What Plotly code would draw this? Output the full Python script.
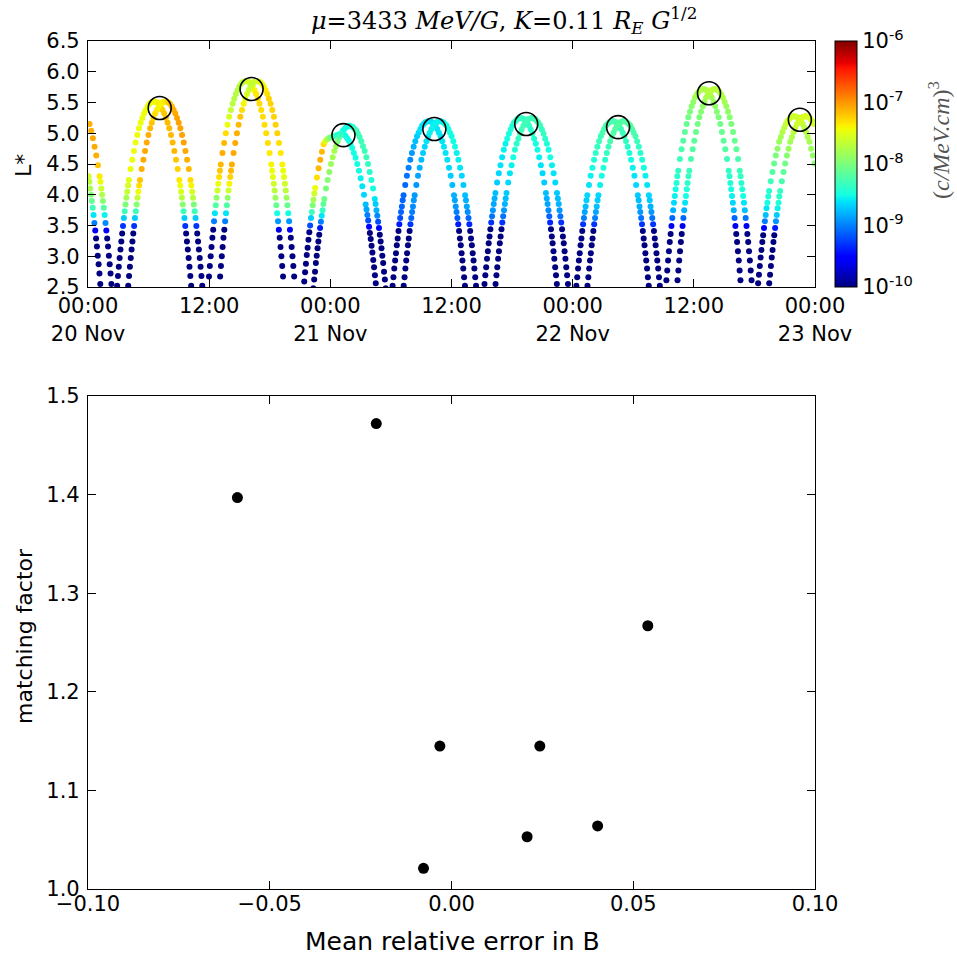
import plotly.graph_objects as go
import pandas as pd

# ---------------- data: top panel (L* of the two probes, coloured by PSD) ----------------
START = pd.Timestamp("2013-11-20 00:00")
LOW = -10.5  # below colour range (dark blue)

# sample offsets (minutes) around each apogee pass, shared by all passes
OFFSETS_MIN = [-220, -215, -210, -205, -200, -195, -190, -185, -180, -175, -170, -165, -160, -155, -150,
               -140, -130, -120, -110, -100, -90, -80, -70, -60, -50, -40, -30, -20, -10, 0,
               10, 20, 30, 40, 50, 60, 70, 80, 90, 100, 110, 120, 130, 140,
               150, 155, 160, 165, 170, 175, 180, 185, 190, 195, 200, 205, 210, 215, 220]

# apogee times (hours after 20 Nov 00:00)
A_APOGEE_H = [-2.45, 6.55, 15.65, 25.0, 33.75, 42.85, 51.95, 60.95, 69.95]
B_APOGEE_H = [-1.35, 7.65, 16.75, 25.9, 34.85, 43.95, 53.05, 62.05, 71.05]

# L* values per pass
L_H0A = [None] * 44 + [4.30, 4.21, 4.10, 4.00, 3.90, 3.79, 3.67, 3.54, 3.42, 3.29, 3.16, 3.01, 2.87, 2.72, 2.55]
L_H0B = [None] * 38 + [5.15, 5.04, 4.92, 4.78, 4.64, 4.48,
                       4.30, 4.21, 4.10, 4.00, 3.90, 3.79, 3.67, 3.54, 3.42, 3.29, 3.16, 3.01, 2.87, 2.72, 2.55]
L_H1 = [2.52, 2.68, 2.83, 2.97, 3.11, 3.24, 3.37, 3.49, 3.62, 3.73, 3.84, 3.95, 4.05, 4.15, 4.24,
        4.42, 4.57, 4.71, 4.85, 4.97, 5.08, 5.17, 5.25, 5.32, 5.38, 5.43, 5.47, 5.50, 5.51, 5.52,
        5.51, 5.50, 5.47, 5.43, 5.38, 5.32, 5.25, 5.17, 5.08, 4.97, 4.85, 4.71, 4.57, 4.42,
        4.24, 4.15, 4.05, 3.95, 3.84, 3.73, 3.62, 3.49, 3.37, 3.24, 3.11, 2.97, 2.83, 2.68, 2.52]
L_H2 = [2.67, 2.84, 3.00, 3.15, 3.30, 3.43, 3.57, 3.70, 3.83, 3.95, 4.07, 4.18, 4.29, 4.39, 4.49,
        4.68, 4.84, 5.00, 5.14, 5.27, 5.38, 5.48, 5.56, 5.64, 5.70, 5.76, 5.80, 5.83, 5.84, 5.85,
        5.84, 5.83, 5.80, 5.76, 5.70, 5.64, 5.56, 5.48, 5.38, 5.27, 5.14, 5.00, 4.84, 4.68,
        4.49, 4.39, 4.29, 4.18, 4.07, 3.95, 3.83, 3.70, 3.57, 3.43, 3.30, 3.15, 3.00, 2.84, 2.67]
L_H3A = [2.44, 2.59, 2.74, 2.88, 3.02, 3.14, 3.27, 3.39, 3.50, 3.62, 3.72, 3.83, 3.92, 4.02, 4.11,
         4.28, 4.43, 4.57, 4.70, 4.82, 4.87, 4.90, 4.92, 4.93, 4.94, 4.95, 4.96, 4.97, 4.98, 4.99,
         5.00, 4.98, 4.96, 4.92, 4.88, 4.82, 4.76, 4.68, 4.60, 4.50, 4.39, 4.27, 4.14, 4.00,
         3.84, 3.76, 3.67, 3.58, 3.48, 3.38, 3.28, 3.17, 3.06, 2.94, 2.82, 2.69, 2.56, 2.43, 2.28]
L_H3B = [2.33, 2.48, 2.62, 2.75, 2.89, 3.01, 3.13, 3.24, 3.35, 3.46, 3.56, 3.66, 3.75, 3.85, 3.93,
         4.10, 4.24, 4.37, 4.50, 4.61, 4.71, 4.79, 4.87, 4.94, 4.99, 5.04, 5.07, 5.10, 5.11, 5.12,
         5.11, 5.10, 5.07, 5.04, 4.99, 4.94, 4.87, 4.79, 4.71, 4.61, 4.50, 4.37, 4.24, 4.10,
         3.93, 3.85, 3.75, 3.66, 3.56, 3.46, 3.35, 3.24, 3.13, 3.01, 2.89, 2.75, 2.62, 2.48, 2.33]
L_H4 = [2.37, 2.52, 2.66, 2.80, 2.93, 3.05, 3.18, 3.29, 3.41, 3.52, 3.62, 3.72, 3.81, 3.91, 3.99,
        4.16, 4.31, 4.44, 4.57, 4.68, 4.78, 4.87, 4.95, 5.01, 5.07, 5.12, 5.15, 5.18, 5.19, 5.20,
        5.19, 5.18, 5.15, 5.12, 5.07, 5.01, 4.95, 4.87, 4.78, 4.68, 4.57, 4.44, 4.31, 4.16,
        3.99, 3.91, 3.81, 3.72, 3.62, 3.52, 3.41, 3.29, 3.18, 3.05, 2.93, 2.80, 2.66, 2.52, 2.37]
L_H5 = [2.39, 2.55, 2.69, 2.82, 2.96, 3.08, 3.21, 3.32, 3.44, 3.55, 3.65, 3.75, 3.85, 3.94, 4.03,
        4.20, 4.35, 4.48, 4.61, 4.73, 4.83, 4.91, 4.99, 5.06, 5.12, 5.17, 5.20, 5.23, 5.24, 5.25,
        5.24, 5.23, 5.20, 5.17, 5.12, 5.06, 4.99, 4.91, 4.83, 4.73, 4.61, 4.48, 4.35, 4.20,
        4.03, 3.94, 3.85, 3.75, 3.65, 3.55, 3.44, 3.32, 3.21, 3.08, 2.96, 2.82, 2.69, 2.55, 2.39]
L_H6 = [2.37, 2.52, 2.66, 2.80, 2.93, 3.05, 3.18, 3.29, 3.41, 3.52, 3.62, 3.72, 3.81, 3.91, 3.99,
        4.16, 4.31, 4.44, 4.57, 4.68, 4.78, 4.87, 4.95, 5.01, 5.07, 5.12, 5.15, 5.18, 5.19, 5.20,
        5.19, 5.18, 5.15, 5.12, 5.07, 5.01, 4.95, 4.87, 4.78, 4.68, 4.57, 4.44, 4.31, 4.16,
        3.99, 3.91, 3.81, 3.72, 3.62, 3.52, 3.41, 3.29, 3.18, 3.05, 2.93, 2.80, 2.66, 2.52, 2.37]
L_H7 = [2.61, 2.77, 2.93, 3.08, 3.23, 3.36, 3.49, 3.62, 3.75, 3.87, 3.98, 4.09, 4.19, 4.30, 4.39,
        4.58, 4.74, 4.88, 5.02, 5.15, 5.26, 5.35, 5.44, 5.51, 5.58, 5.63, 5.67, 5.70, 5.71, 5.72,
        5.71, 5.70, 5.67, 5.63, 5.58, 5.51, 5.44, 5.35, 5.26, 5.15, 5.02, 4.88, 4.74, 4.58,
        4.39, 4.30, 4.19, 4.09, 3.98, 3.87, 3.75, 3.62, 3.49, 3.36, 3.23, 3.08, 2.93, 2.77, 2.61]
L_H8A = [2.41, 2.56, 2.70, 2.84, 2.98, 3.10, 3.23, 3.34, 3.46, 3.57, 3.67, 3.78, 3.87, 3.97, 4.06,
         4.22, 4.37, 4.51, 4.64, 4.75, 4.86, 4.94, 5.02, 5.09, 5.15, 5.20, 5.23, 5.26, 5.27, 5.28,
         5.27, 5.26, 5.23, 5.20, 5.15, 5.09, 5.02, 4.94, 4.86, 4.75, 4.64, 4.51] + [None] * 17
L_H8B = [2.41, 2.56, 2.70, 2.84, 2.98, 3.10, 3.23, 3.34, 3.46, 3.57, 3.67, 3.78, 3.87, 3.97, 4.06,
         4.22, 4.37, 4.51, 4.64, 4.75, 4.86, 4.94, 5.02, 5.09, 5.15, 5.20, 5.23, 5.26, 5.27, 5.28,
         5.27, 5.26, 5.23, 5.20, 5.15] + [None] * 24

# log10 phase space density per point
P_H0A = [None] * 44 + [-7.6, -7.7, -7.8, -7.95, -8.1, -8.3, -8.6, -9.0, -9.6, LOW, LOW, LOW, LOW, LOW, LOW]
P_H0B = [None] * 38 + [-7.1, -7.1, -7.08, -7.08, -7.1, -7.2,
                       -7.35, -7.45, -7.6, -7.75, -7.95, -8.2, -8.55, -8.95, -9.5, LOW, LOW, LOW, LOW, LOW, LOW]
P_H1A = [LOW, LOW, LOW, LOW, LOW, LOW, LOW, -9.3, -8.7, -8.3, -8.0, -7.8, -7.65, -7.55, -7.5,
         -7.45, -7.45, -7.45, -7.45, -7.45, -7.45, -7.45, -7.45, -7.45, -7.45, -7.45, -7.45, -7.45, -7.45, -7.45,
         -7.4, -7.4, -7.35, -7.3, -7.25, -7.2, -7.2, -7.15, -7.15, -7.15, -7.15, -7.15, -7.2, -7.25,
         -7.35, -7.45, -7.55, -7.7, -7.95, -8.3, -8.7, -9.3, LOW, LOW, LOW, LOW, LOW, LOW, LOW]
P_H1B = [LOW, LOW, LOW, LOW, LOW, LOW, LOW, -9.3, -8.7, -8.3, -7.95, -7.65, -7.45, -7.3, -7.2,
         -7.1, -7.08, -7.08, -7.08, -7.1, -7.15, -7.2, -7.25, -7.3, -7.35, -7.4, -7.4, -7.4, -7.4, -7.35,
         -7.3, -7.25, -7.2, -7.15, -7.1, -7.08, -7.05, -7.05, -7.05, -7.05, -7.05, -7.08, -7.1, -7.15,
         -7.3, -7.4, -7.55, -7.7, -8.0, -8.3, -8.7, -9.3, LOW, LOW, LOW, LOW, LOW, LOW, LOW]
P_H2A = [LOW, LOW, LOW, LOW, LOW, LOW, -9.0, -8.6, -8.2, -7.9, -7.6, -7.45, -7.3, -7.2, -7.15,
         -7.1, -7.15, -7.3, -7.45, -7.55, -7.65, -7.7, -7.72, -7.72, -7.72, -7.7, -7.7, -7.7, -7.7, -7.65,
         -7.6, -7.55, -7.5, -7.45, -7.4, -7.35, -7.3, -7.3, -7.3, -7.3, -7.3, -7.3, -7.3, -7.35,
         -7.4, -7.45, -7.5, -7.6, -7.7, -7.85, -8.1, -8.5, -8.9, -9.6, LOW, LOW, LOW, LOW, LOW]
P_H2B = [LOW, LOW, LOW, LOW, LOW, LOW, -9.0, -8.6, -8.2, -7.9, -7.6, -7.4, -7.25, -7.15, -7.1,
         -7.08, -7.08, -7.1, -7.15, -7.2, -7.3, -7.4, -7.5, -7.55, -7.6, -7.65, -7.65, -7.65, -7.65, -7.6,
         -7.55, -7.5, -7.45, -7.4, -7.35, -7.3, -7.25, -7.25, -7.25, -7.25, -7.25, -7.25, -7.3, -7.35,
         -7.4, -7.45, -7.5, -7.6, -7.7, -7.85, -8.1, -8.5, -8.9, -9.6, LOW, LOW, LOW, LOW, LOW]
P_H3A = [LOW, LOW, LOW, LOW, LOW, LOW, LOW, LOW, -9.2, -8.7, -8.3, -8.0, -7.8, -7.6, -7.45,
         -7.3, -7.15, -7.1, -7.15, -7.3, -7.5, -7.7, -7.85, -8.0, -8.1, -8.2, -8.3, -8.4, -8.45, -8.5,
         -8.5, -8.5, -8.5, -8.5, -8.5, -8.5, -8.5, -8.5, -8.5, -8.5, -8.5, -8.55, -8.6, -8.65,
         -8.75, -8.85, -9.0, -9.2, -9.5, LOW, LOW, LOW, LOW, LOW, LOW, LOW, LOW, LOW, LOW]
P_H3B = [LOW, LOW, LOW, LOW, LOW, LOW, LOW, LOW, LOW, -9.4, -9.0, -8.6, -8.35, -8.15, -8.05,
         -8.0, -7.95, -7.9, -7.85, -7.8, -7.8, -7.85, -8.0, -8.2, -8.35, -8.45, -8.5, -8.5, -8.5, -8.5,
         -8.45, -8.4, -8.35, -8.3, -8.3, -8.3, -8.3, -8.3, -8.3, -8.3, -8.35, -8.4, -8.45, -8.5,
         -8.6, -8.7, -8.8, -8.95, -9.2, -9.5, LOW, LOW, LOW, LOW, LOW, LOW, LOW, LOW, LOW]
P_H4A = [LOW, LOW, LOW, LOW, LOW, LOW, LOW, LOW, LOW, -9.4, -9.2, -9.1, -9.1, -9.1, -9.1,
         -9.1, -9.05, -9.0, -8.95, -8.9, -8.8, -8.75, -8.7, -8.65, -8.6, -8.6, -8.6, -8.6, -8.6, -8.6,
         -8.6, -8.6, -8.6, -8.6, -8.6, -8.6, -8.6, -8.6, -8.6, -8.6, -8.6, -8.65, -8.7, -8.75,
         -8.8, -8.85, -8.9, -9.0, -9.15, -9.4, LOW, LOW, LOW, LOW, LOW, LOW, LOW, LOW, LOW]
P_H4B = [LOW, LOW, LOW, LOW, LOW, LOW, LOW, LOW, LOW, -9.3, -9.1, -9.0, -8.95, -8.9, -8.9,
         -8.9, -8.85, -8.8, -8.75, -8.7, -8.65, -8.6, -8.6, -8.55, -8.55, -8.55, -8.55, -8.55, -8.55, -8.55,
         -8.55, -8.55, -8.5, -8.5, -8.5, -8.5, -8.5, -8.5, -8.5, -8.55, -8.55, -8.6, -8.65, -8.7,
         -8.75, -8.8, -8.85, -8.95, -9.1, -9.35, LOW, LOW, LOW, LOW, LOW, LOW, LOW, LOW, LOW]
P_H5A = [LOW, LOW, LOW, LOW, LOW, LOW, LOW, LOW, LOW, -9.3, -9.05, -8.9, -8.85, -8.8, -8.75,
         -8.7, -8.65, -8.6, -8.6, -8.55, -8.55, -8.5, -8.5, -8.45, -8.45, -8.4, -8.4, -8.35, -8.35, -8.35,
         -8.35, -8.35, -8.35, -8.35, -8.35, -8.4, -8.4, -8.45, -8.5, -8.5, -8.55, -8.6, -8.65, -8.7,
         -8.75, -8.8, -8.85, -8.95, -9.1, -9.35, LOW, LOW, LOW, LOW, LOW, LOW, LOW, LOW, LOW]
P_H5B = [LOW, LOW, LOW, LOW, LOW, LOW, LOW, LOW, LOW, -9.3, -9.05, -8.9, -8.8, -8.75, -8.7,
         -8.65, -8.6, -8.55, -8.5, -8.45, -8.4, -8.35, -8.3, -8.3, -8.3, -8.3, -8.3, -8.3, -8.3, -8.3,
         -8.3, -8.3, -8.3, -8.3, -8.3, -8.35, -8.35, -8.4, -8.45, -8.5, -8.5, -8.55, -8.6, -8.65,
         -8.7, -8.75, -8.8, -8.9, -9.05, -9.3, LOW, LOW, LOW, LOW, LOW, LOW, LOW, LOW, LOW]
P_H6A = [LOW, LOW, LOW, LOW, LOW, LOW, LOW, LOW, LOW, -9.3, -9.0, -8.85, -8.75, -8.7, -8.65,
         -8.6, -8.55, -8.5, -8.45, -8.4, -8.35, -8.3, -8.3, -8.25, -8.25, -8.25, -8.25, -8.25, -8.25, -8.25,
         -8.25, -8.25, -8.25, -8.25, -8.3, -8.3, -8.3, -8.35, -8.4, -8.45, -8.5, -8.55, -8.6, -8.65,
         -8.7, -8.75, -8.8, -8.9, -9.05, -9.3, LOW, LOW, LOW, LOW, LOW, LOW, LOW, LOW, LOW]
P_H6B = [LOW, LOW, LOW, LOW, LOW, LOW, LOW, LOW, LOW, -9.3, -9.0, -8.85, -8.75, -8.7, -8.65,
         -8.55, -8.5, -8.45, -8.4, -8.35, -8.3, -8.25, -8.2, -8.2, -8.2, -8.2, -8.2, -8.2, -8.2, -8.2,
         -8.2, -8.2, -8.2, -8.2, -8.2, -8.25, -8.25, -8.3, -8.35, -8.4, -8.45, -8.5, -8.55, -8.6,
         -8.65, -8.7, -8.8, -8.9, -9.05, -9.3, LOW, LOW, LOW, LOW, LOW, LOW, LOW, LOW, LOW]
P_H7A = [LOW, LOW, LOW, LOW, LOW, LOW, -9.6, -9.1, -8.8, -8.65, -8.55, -8.5, -8.45, -8.4, -8.35,
         -8.3, -8.25, -8.2, -8.15, -8.1, -8.05, -8.0, -7.95, -7.9, -7.85, -7.8, -7.8, -7.75, -7.75, -7.75,
         -7.75, -7.75, -7.75, -7.8, -7.8, -7.85, -7.9, -7.95, -8.0, -8.05, -8.1, -8.15, -8.2, -8.3,
         -8.35, -8.4, -8.45, -8.5, -8.55, -8.65, -8.8, -9.1, -9.6, LOW, LOW, LOW, LOW, LOW, LOW]
P_H7B = [LOW, LOW, LOW, LOW, LOW, LOW, -9.6, -9.1, -8.8, -8.6, -8.5, -8.45, -8.4, -8.35, -8.3,
         -8.25, -8.2, -8.15, -8.1, -8.05, -8.0, -7.95, -7.9, -7.85, -7.8, -7.75, -7.7, -7.7, -7.7, -7.7,
         -7.7, -7.7, -7.7, -7.75, -7.75, -7.8, -7.85, -7.9, -7.95, -8.0, -8.05, -8.1, -8.15, -8.25,
         -8.3, -8.35, -8.4, -8.45, -8.5, -8.6, -8.75, -9.05, -9.6, LOW, LOW, LOW, LOW, LOW, LOW]
P_H8A = [LOW, LOW, LOW, LOW, LOW, LOW, LOW, LOW, -9.5, -9.0, -8.75, -8.6, -8.5, -8.45, -8.4,
         -8.3, -8.2, -8.1, -8.0, -7.9, -7.85, -7.8, -7.75, -7.7, -7.65, -7.6, -7.6, -7.6, -7.6, -7.6,
         -7.6, -7.6, -7.6, -7.65, -7.65, -7.7, -7.7, -7.75, -7.8, -7.85, -7.9, -7.95] + [None] * 17
P_H8B = [LOW, LOW, LOW, LOW, LOW, LOW, LOW, LOW, -9.4, -8.9, -8.7, -8.55, -8.45, -8.4, -8.35,
         -8.25, -8.15, -8.05, -7.95, -7.85, -7.8, -7.75, -7.7, -7.65, -7.6, -7.6, -7.55, -7.55, -7.55, -7.55,
         -7.55, -7.55, -7.55, -7.6, -7.6] + [None] * 24

A_L = [L_H0A, L_H1, L_H2, L_H3A, L_H4, L_H5, L_H6, L_H7, L_H8A]
B_L = [L_H0B, L_H1, L_H2, L_H3B, L_H4, L_H5, L_H6, L_H7, L_H8B]
A_P = [P_H0A, P_H1A, P_H2A, P_H3A, P_H4A, P_H5A, P_H6A, P_H7A, P_H8A]
B_P = [P_H0B, P_H1B, P_H2B, P_H3B, P_H4B, P_H5B, P_H6B, P_H7B, P_H8B]

# conjunction markers
CONJ_T_H = [7.1, 16.2, 25.3, 34.3, 43.4, 52.5, 61.5, 70.5]
CONJ_L = [5.41, 5.72, 4.97, 5.07, 5.15, 5.10, 5.65, 5.22]

# colour bar
CBAR_VALS = [-10, -9, -8, -7, -6]
CBAR_TEXT = ["10<sup>-10</sup>", "10<sup>-9</sup>", "10<sup>-8</sup>", "10<sup>-7</sup>", "10<sup>-6</sup>"]

# time axis ticks
TIME_TICKS_H = [0, 12, 24, 36, 48, 60, 72]
TIME_TICK_TEXT = ["00:00<br>20 Nov", "12:00", "00:00<br>21 Nov", "12:00", "00:00<br>22 Nov", "12:00",
                  "00:00<br>23 Nov"]

# ---------------- data: bottom panel ----------------
MEAN_REL_ERR_B = [-0.0589, -0.0207, -0.0032, -0.0077, 0.0208, 0.0243, 0.0402, 0.0540]
MATCHING_FACTOR = [1.397, 1.472, 1.145, 1.021, 1.053, 1.145, 1.064, 1.267]

# ---------------- build ----------------
JET = [[0.0, "rgb(0,0,128)"], [0.11, "rgb(0,0,255)"], [0.125, "rgb(0,0,255)"],
       [0.34, "rgb(0,219,255)"], [0.35, "rgb(0,230,247)"], [0.375, "rgb(21,255,226)"],
       [0.64, "rgb(238,255,8)"], [0.65, "rgb(247,246,0)"], [0.66, "rgb(255,236,0)"],
       [0.89, "rgb(255,19,0)"], [0.91, "rgb(232,0,0)"], [1.0, "rgb(128,0,0)"]]


def hours(h):
    return START + pd.Timedelta(hours=h)


def collect(apogees, Ls, Ps):
    xs, ys, cs = [], [], []
    for ap, Lv, Pv in zip(apogees, Ls, Ps):
        assert len(Lv) == len(OFFSETS_MIN) and len(Pv) == len(OFFSETS_MIN)
        for off, l, p in zip(OFFSETS_MIN, Lv, Pv):
            if l is None or p is None:
                continue
            xs.append(hours(ap + off / 60.0))
            ys.append(l)
            cs.append(p)
    return xs, ys, cs


fig = go.Figure()
for k, (ap, Ls, Ps) in enumerate([(A_APOGEE_H, A_L, A_P), (B_APOGEE_H, B_L, B_P)]):
    xs, ys, cs = collect(ap, Ls, Ps)
    marker = dict(size=6, color=cs, colorscale=JET, cmin=-10, cmax=-6, line=dict(width=0))
    if k == 0:
        marker["showscale"] = True
        marker["colorbar"] = dict(
            x=835 / 957, xanchor="left", y=1 - 287 / 957, yanchor="bottom",
            len=246 / 957, lenmode="fraction", thickness=22, thicknessmode="pixels",
            outlinecolor="black", outlinewidth=1, tickvals=CBAR_VALS, ticktext=CBAR_TEXT,
            ticks="", tickfont=dict(size=21, color="black", family="DejaVu Sans"), xpad=0, ypad=0)
    fig.add_trace(go.Scatter(x=xs, y=ys, mode="markers", marker=marker, xaxis="x", yaxis="y",
                             hoverinfo="skip"))

fig.add_trace(go.Scatter(x=[hours(h) for h in CONJ_T_H], y=CONJ_L, mode="markers",
                         marker=dict(symbol="circle-open", size=23, color="black", line=dict(width=1.6)),
                         xaxis="x", yaxis="y"))

fig.add_trace(go.Scatter(x=MEAN_REL_ERR_B, y=MATCHING_FACTOR, mode="markers",
                         marker=dict(size=11, color="black"), xaxis="x2", yaxis="y2"))

axis_common = dict(showline=True, linecolor="black", linewidth=1.2, mirror="allticks", ticks="inside",
                   ticklen=8, tickwidth=1, tickcolor="black", showgrid=False, zeroline=False,
                   automargin=False, tickfont=dict(size=21, color="black", family="DejaVu Sans"))

fig.update_layout(
    width=957, height=957, margin=dict(l=0, r=0, t=0, b=0),
    paper_bgcolor="white", plot_bgcolor="white", showlegend=False,
    font=dict(family="DejaVu Sans", size=21, color="black"),
    xaxis=dict(domain=[88 / 957, 815 / 957], anchor="y", type="date",
               range=[hours(0), hours(72)], tickvals=[hours(h) for h in TIME_TICKS_H],
               ticktext=TIME_TICK_TEXT, ticklabelstandoff=0, **axis_common),
    yaxis=dict(domain=[1 - 287 / 957, 1 - 41 / 957], anchor="x", range=[2.5, 6.5],
               tick0=2.5, dtick=0.5, tickformat=".1f", ticklabelstandoff=3, **axis_common),
    xaxis2=dict(domain=[88 / 957, 815 / 957], anchor="y2", range=[-0.1, 0.1],
                tick0=-0.1, dtick=0.05, tickformat=".2f", ticklabelstandoff=-4, **axis_common),
    yaxis2=dict(domain=[1 - 889 / 957, 1 - 396 / 957], anchor="x2", range=[1.0, 1.5],
                tick0=1.0, dtick=0.1, tickformat=".1f", ticklabelstandoff=3, **axis_common),
)

ann = [
    dict(x=504 / 957, y=1 - 20 / 957, xref="paper", yref="paper", showarrow=False,
         text="<i>μ</i>=3433 <i>MeV/G</i>, <i>K</i>=0.11 <i>R<sub>E</sub></i> <i>G</i><sup>1/2</sup>",
         font=dict(family="DejaVu Serif", size=24, color="black"), xanchor="center", yanchor="middle"),
    dict(x=24 / 957, y=1 - 166 / 957, xref="paper", yref="paper", showarrow=False, text="L*",
         textangle=-90, font=dict(size=22, color="black"), xanchor="center", yanchor="middle"),
    dict(x=24 / 957, y=1 - 636 / 957, xref="paper", yref="paper", showarrow=False, text="matching factor",
         textangle=-90, font=dict(size=22, color="black"), xanchor="center", yanchor="middle"),
    dict(x=452 / 957, y=1 - 941 / 957, xref="paper", yref="paper", showarrow=False,
         text="Mean relative error in B", font=dict(size=25, color="black"),
         xanchor="center", yanchor="middle"),
    dict(x=939 / 957, y=1 - 140 / 957, xref="paper", yref="paper", showarrow=False,
         text="(<i>c/MeV.cm</i>)<sup>3</sup>", textangle=-90,
         font=dict(family="Liberation Serif", size=24, color="#555555"), xanchor="center", yanchor="middle"),
]
fig.update_layout(annotations=ann)

fig.write_html("out.html")
